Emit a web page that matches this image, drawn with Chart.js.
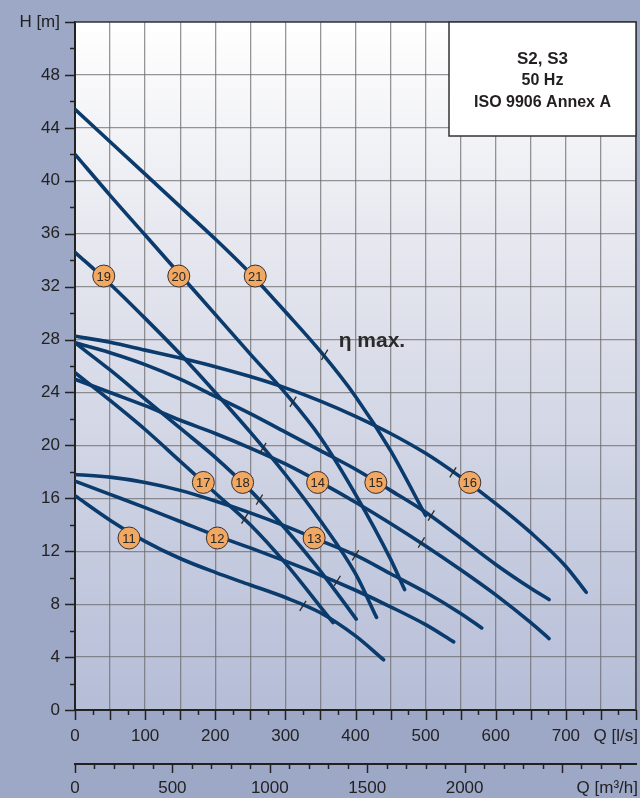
<!DOCTYPE html>
<html>

<head>
    <title>S2, S3 pump curves</title>
    <style>
        body {
            margin: 0;
            overflow: hidden;
            background-color: #9da8c7;
        }

        .chart-container {
            position: relative;
            width: 640px;
            height: 798px;
        }
    </style>
</head>

<body>
    <div class="chart-container">
        <canvas id="pumpChart"></canvas>
    </div>

    <script src="https://cdn.jsdelivr.net/npm/chart.js"></script>
    <script>
        // Q in l/s, H in m
        const q11 = [0, 50, 100, 150, 200, 250, 300, 350, 400, 440];
        const h11 = [16.2, 14.35, 12.75, 11.45, 10.4, 9.45, 8.5, 7.35, 5.6, 3.8];
        const q12 = [0, 50, 100, 150, 200, 250, 300, 350, 400, 450, 500, 540];
        const h12 = [17.3, 16.3, 15.3, 14.25, 13.2, 12.25, 11.25, 10.2, 9.05, 7.8, 6.45, 5.15];
        const q13 = [0, 50, 100, 150, 200, 250, 300, 350, 400, 450, 500, 550, 580];
        const h13 = [17.8, 17.6, 17.2, 16.6, 15.8, 14.9, 13.9, 12.8, 11.7, 10.3, 8.9, 7.3, 6.2];
        const q14 = [0, 50, 100, 150, 200, 250, 300, 350, 400, 450, 500, 550, 600, 650, 676];
        const h14 = [25.0, 24.0, 23.0, 21.9, 20.9, 19.8, 18.6, 17.2, 15.7, 14.1, 12.4, 10.6, 8.7, 6.6, 5.4];
        const q15 = [0, 50, 100, 150, 200, 250, 300, 350, 400, 450, 500, 550, 600, 650, 676];
        const h15 = [27.75, 27.0, 26.1, 25.0, 23.7, 22.4, 21.0, 19.6, 18.2, 16.6, 14.95, 13.0, 11.0, 9.2, 8.35];
        const q16 = [0, 50, 100, 150, 200, 250, 300, 350, 400, 450, 500, 550, 600, 650, 700, 729];
        const h16 = [28.25, 27.8, 27.2, 26.6, 25.95, 25.2, 24.35, 23.35, 22.2, 20.9, 19.4, 17.6, 15.6, 13.4, 10.85, 8.9];
        const q17 = [0, 50, 100, 150, 200, 250, 300, 350, 368];
        const h17 = [25.5, 23.4, 21.2, 18.8, 16.4, 14.0, 11.1, 7.8, 6.6];
        const q18 = [0, 50, 100, 150, 200, 250, 300, 350, 401];
        const h18 = [27.75, 25.7, 23.5, 21.3, 19.1, 16.6, 13.7, 10.5, 6.87];
        const q19 = [0, 50, 100, 150, 200, 250, 300, 350, 400, 430];
        const h19 = [34.6, 32.2, 29.6, 26.9, 24.0, 21.0, 17.8, 14.3, 10.3, 7.0];
        const q20 = [0, 50, 100, 150, 200, 250, 300, 350, 400, 450, 470];
        const h20 = [42.0, 38.9, 35.9, 32.9, 29.9, 26.9, 23.95, 20.6, 16.3, 11.4, 9.1];
        const q21 = [0, 50, 100, 150, 200, 250, 300, 350, 400, 450, 500];
        const h21 = [45.4, 42.95, 40.5, 38.05, 35.6, 33.0, 30.1, 27.1, 23.7, 19.6, 14.7];

        // best efficiency marks (one per curve, 11..21)
        const etaQ = [325, 374, 400, 494, 508, 539, 242, 263, 268, 311, 356];
        const etaH = [7.87, 9.76, 11.7, 12.66, 14.7, 17.96, 14.47, 15.9, 19.8, 23.3, 26.85];

        // numbered circles
        const labelText = ['11', '12', '13', '14', '15', '16', '17', '18', '19', '20', '21'];
        const labelQ = [77, 203, 341, 346, 429, 563, 183, 239, 41, 148, 257];
        const labelH = [13.0, 13.0, 13.0, 17.2, 17.2, 17.2, 17.2, 17.2, 32.8, 32.8, 32.8];

        // axis ticks
        const yTicksMax = 52;
        const xTicksMax = 800;
        const xLabelsMax = 700;
        const x2Labels = [0, 500, 1000, 1500, 2000];

        const curves = [
            [q11, h11], [q12, h12], [q13, h13], [q14, h14], [q15, h15], [q16, h16],
            [q17, h17], [q18, h18], [q19, h19], [q20, h20], [q21, h21]
        ];

        const toPoints = (q, h) => q.map((x, i) => ({ x: x, y: h[i] }));

        const datasets = curves.map(c => ({
            data: toPoints(c[0], c[1]),
            showLine: true,
            borderColor: '#0a3b6c',
            borderWidth: 3.6,
            borderCapStyle: 'round',
            pointRadius: 0,
            cubicInterpolationMode: 'monotone',
            order: 3
        }));

        datasets.push({
            data: toPoints(etaQ, etaH),
            pointStyle: 'line',
            rotation: -58,
            pointRadius: 6,
            borderColor: '#2b2b2b',
            borderWidth: 1.3,
            order: 2
        });

        datasets.push({
            data: toPoints(labelQ, labelH),
            pointStyle: 'circle',
            pointRadius: 11,
            backgroundColor: '#f0a862',
            borderColor: '#3a3030',
            borderWidth: 1,
            order: 1
        });

        const gridColor = 'rgba(105, 105, 105, 0.7)';

        // keep the plot box fixed, no extra room for edge labels
        const noPad = s => {
            s.paddingLeft = 0;
            s.paddingRight = 0;
            s.paddingTop = 0;
            s.paddingBottom = 0;
        };

        // background: blue-grey page, gradient plot area
        const backgroundPlugin = {
            id: 'background',
            beforeDraw(chart) {
                const ctx = chart.ctx;
                const a = chart.chartArea;
                ctx.save();
                ctx.fillStyle = '#9da8c7';
                ctx.fillRect(0, 0, chart.width, chart.height);
                const g = ctx.createLinearGradient(0, a.top, 0, a.bottom);
                g.addColorStop(0, '#ffffff');
                g.addColorStop(0.3, '#e8e9f0');
                g.addColorStop(1, '#b5bdd7');
                ctx.fillStyle = g;
                ctx.fillRect(a.left, a.top, a.right - a.left, a.bottom - a.top);
                ctx.restore();
            }
        };

        // numbers inside the circles
        const circleTextPlugin = {
            id: 'circleText',
            afterDatasetsDraw(chart) {
                const ctx = chart.ctx;
                const meta = chart.getDatasetMeta(chart.data.datasets.length - 1);
                ctx.save();
                ctx.font = '13px "Liberation Sans", Arial, sans-serif';
                ctx.fillStyle = '#2a2622';
                ctx.textAlign = 'center';
                ctx.textBaseline = 'middle';
                meta.data.forEach((pt, i) => {
                    ctx.fillText(labelText[i], pt.x, pt.y + 1);
                });
                ctx.restore();
            }
        };

        // tick marks, frame, info box and extra texts
        const decorPlugin = {
            id: 'decor',
            afterDraw(chart) {
                const ctx = chart.ctx;
                const a = chart.chartArea;
                const xs = chart.scales.x;
                const ys = chart.scales.y;
                const x2 = chart.scales.x2;
                ctx.save();

                // top and right frame
                ctx.strokeStyle = '#3c3c3c';
                ctx.lineWidth = 1.5;
                ctx.beginPath();
                ctx.moveTo(a.left, a.top);
                ctx.lineTo(a.right, a.top);
                ctx.lineTo(a.right, a.bottom);
                ctx.stroke();

                ctx.strokeStyle = '#222';
                ctx.lineWidth = 1.5;
                ctx.beginPath();
                for (let v = 0; v <= yTicksMax; v += 2) {
                    const py = Math.round(ys.getPixelForValue(v)) + 0.5;
                    const len = v % 4 === 0 ? 10 : 5;
                    ctx.moveTo(a.left - len, py);
                    ctx.lineTo(a.left, py);
                }
                for (let v = 0; v <= xTicksMax; v += 25) {
                    const px = Math.round(xs.getPixelForValue(v)) + 0.5;
                    const len = v % 50 === 0 ? 10 : 5;
                    ctx.moveTo(px, a.bottom);
                    ctx.lineTo(px, a.bottom + len);
                }
                for (let v = 0; v <= x2.max; v += 100) {
                    const px = Math.round(x2.getPixelForValue(v)) + 0.5;
                    const len = v % 500 === 0 ? 9 : 5;
                    ctx.moveTo(px, x2.top);
                    ctx.lineTo(px, x2.top + len);
                }
                ctx.stroke();

                // unit labels on the Q axes
                ctx.fillStyle = '#222';
                ctx.font = '17px "Liberation Sans", Arial, sans-serif';
                ctx.textAlign = 'right';
                ctx.textBaseline = 'middle';
                ctx.fillText('Q [l/s]', a.right + 2, a.bottom + 26);
                ctx.fillText('Q [m\u00b3/h]', a.right + 2, x2.top + 24);

                // info box
                const bx = a.right - 187;
                const bw = 187;
                const bh = 114;
                ctx.fillStyle = '#ffffff';
                ctx.fillRect(bx, a.top, bw, bh);
                ctx.strokeStyle = '#333';
                ctx.lineWidth = 1.5;
                ctx.strokeRect(bx, a.top, bw, bh);
                ctx.fillStyle = '#231f20';
                ctx.textAlign = 'center';
                ctx.font = 'bold 17px "Liberation Sans", Arial, sans-serif';
                ctx.fillText('S2, S3', bx + bw / 2, a.top + 37);
                ctx.font = 'bold 16px "Liberation Sans", Arial, sans-serif';
                ctx.fillText('50 Hz', bx + bw / 2, a.top + 59);
                ctx.fillText('ISO 9906 Annex A', bx + bw / 2, a.top + 81);

                // eta max label
                ctx.textAlign = 'left';
                ctx.font = 'bold 21px "Liberation Sans", Arial, sans-serif';
                ctx.fillStyle = '#2a2a2a';
                ctx.fillText('\u03b7 max.', xs.getPixelForValue(376), ys.getPixelForValue(27.9));

                ctx.restore();
            }
        };

        Chart.defaults.font.family = '"Liberation Sans", Arial, sans-serif';
        Chart.defaults.color = '#222';

        const ctx1 = document.getElementById('pumpChart').getContext('2d');
        new Chart(ctx1, {
            type: 'scatter',
            data: { datasets: datasets },
            options: {
                responsive: true,
                maintainAspectRatio: false,
                animation: false,
                devicePixelRatio: 1,
                layout: {
                    autoPadding: false,
                    padding: { top: 22, right: 4, left: 0, bottom: 0 }
                },
                plugins: {
                    legend: { display: false },
                    tooltip: { enabled: false }
                },
                scales: {
                    x: {
                        type: 'linear',
                        position: 'bottom',
                        weight: 0,
                        min: 0,
                        max: xTicksMax,
                        afterFit: s => { s.height = 54; noPad(s); },
                        grid: { color: gridColor, lineWidth: 1.3, drawTicks: true, tickLength: 14, tickColor: 'transparent' },
                        border: { color: '#222', width: 2 },
                        ticks: {
                            stepSize: 50,
                            autoSkip: false,
                            maxRotation: 0,
                            padding: 2,
                            font: { size: 17 },
                            callback: v => (v % 100 === 0 && v <= xLabelsMax) ? v : ''
                        }
                    },
                    x2: {
                        type: 'linear',
                        position: 'bottom',
                        weight: 1,
                        min: 0,
                        max: xTicksMax * 3.6,
                        afterFit: s => { s.height = 34; noPad(s); },
                        afterBuildTicks: s => { s.ticks = x2Labels.map(v => ({ value: v })); },
                        grid: { drawOnChartArea: false, drawTicks: true, tickLength: 12, color: 'transparent', tickColor: 'transparent' },
                        border: { color: '#222', width: 2 },
                        ticks: {
                            autoSkip: false,
                            maxRotation: 0,
                            padding: 2,
                            font: { size: 17 },
                            callback: v => String(v)
                        }
                    },
                    y: {
                        type: 'linear',
                        min: 0,
                        max: yTicksMax,
                        afterFit: s => { s.width = 75; noPad(s); },
                        grid: { color: gridColor, lineWidth: 1.3, drawTicks: true, tickLength: 13, tickColor: 'transparent' },
                        border: { color: '#222', width: 2 },
                        ticks: {
                            stepSize: 4,
                            padding: 2,
                            font: { size: 17 },
                            callback: v => v === yTicksMax ? 'H [m]' : v
                        }
                    }
                }
            },
            plugins: [backgroundPlugin, circleTextPlugin, decorPlugin]
        });
    </script>
</body>

</html>
